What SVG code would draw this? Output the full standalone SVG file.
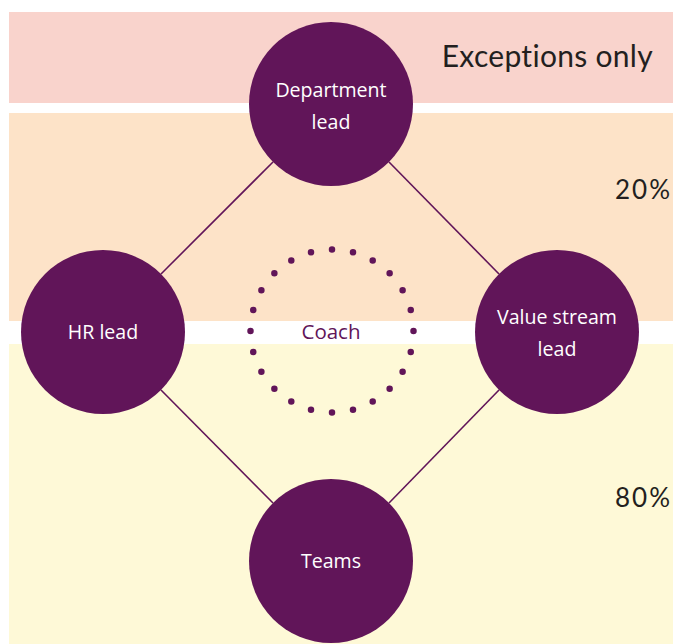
<svg xmlns="http://www.w3.org/2000/svg" width="673" height="644" viewBox="0 0 673 644">
  <style>
    .node { fill: #611559; }
    .label { fill: #ffffff; font-family: "Open Sans", "Liberation Sans", sans-serif; font-size: 19.6px; text-anchor: middle; }
    .band-label { fill: #231f20; font-family: "Lato", "Liberation Sans", sans-serif; text-anchor: end; }
    .link { stroke: #611559; stroke-width: 1.6; fill: none; }
    .coach-ring { fill: none; stroke: #611559; stroke-width: 6.5; stroke-linecap: round; stroke-dasharray: 0 1; }
  </style>

  <!-- background bands -->
  <rect width="673" height="644" fill="#ffffff"/>
  <rect x="9" y="12" width="664" height="91" fill="#f9d3cc"/>
  <rect x="9" y="113" width="664" height="208" fill="#fde3c8"/>
  <rect x="9" y="344" width="664" height="300" fill="#fef9d7"/>

  <text class="band-label" x="653" y="67" font-size="30" letter-spacing="0.3">Exceptions only</text>
  <text class="band-label" x="672" y="199" font-size="26" letter-spacing="2">20%</text>
  <text class="band-label" x="672" y="507" font-size="26" letter-spacing="2">80%</text>

  <!-- connectors -->
  <g id="connectors">
    <line class="link" x1="273" y1="162" x2="161" y2="274"/>
    <line class="link" x1="389" y1="162" x2="499" y2="274"/>
    <line class="link" x1="161" y1="390" x2="273" y2="503"/>
    <line class="link" x1="499" y1="390" x2="389" y2="503"/>
  </g>

  <g id="coach">
    <circle class="coach-ring" cx="332" cy="331" r="81.5" pathLength="24"/>
    <text x="331" y="339" font-family="Open Sans, Liberation Sans, sans-serif" font-size="20.5" fill="#611559" text-anchor="middle">Coach</text>
  </g>

  <g id="department-lead">
    <circle class="node" cx="331" cy="104" r="82"/>
    <text class="label" x="331" y="97">Department</text>
    <text class="label" x="331" y="129">lead</text>
  </g>

  <g id="hr-lead">
    <circle class="node" cx="103" cy="332" r="82"/>
    <text class="label" x="103" y="339">HR lead</text>
  </g>

  <g id="value-stream-lead">
    <circle class="node" cx="557" cy="332" r="82"/>
    <text class="label" x="557" y="324">Value stream</text>
    <text class="label" x="557" y="356">lead</text>
  </g>

  <g id="teams">
    <circle class="node" cx="331" cy="561" r="82"/>
    <text class="label" x="331" y="568">Teams</text>
  </g>
</svg>
